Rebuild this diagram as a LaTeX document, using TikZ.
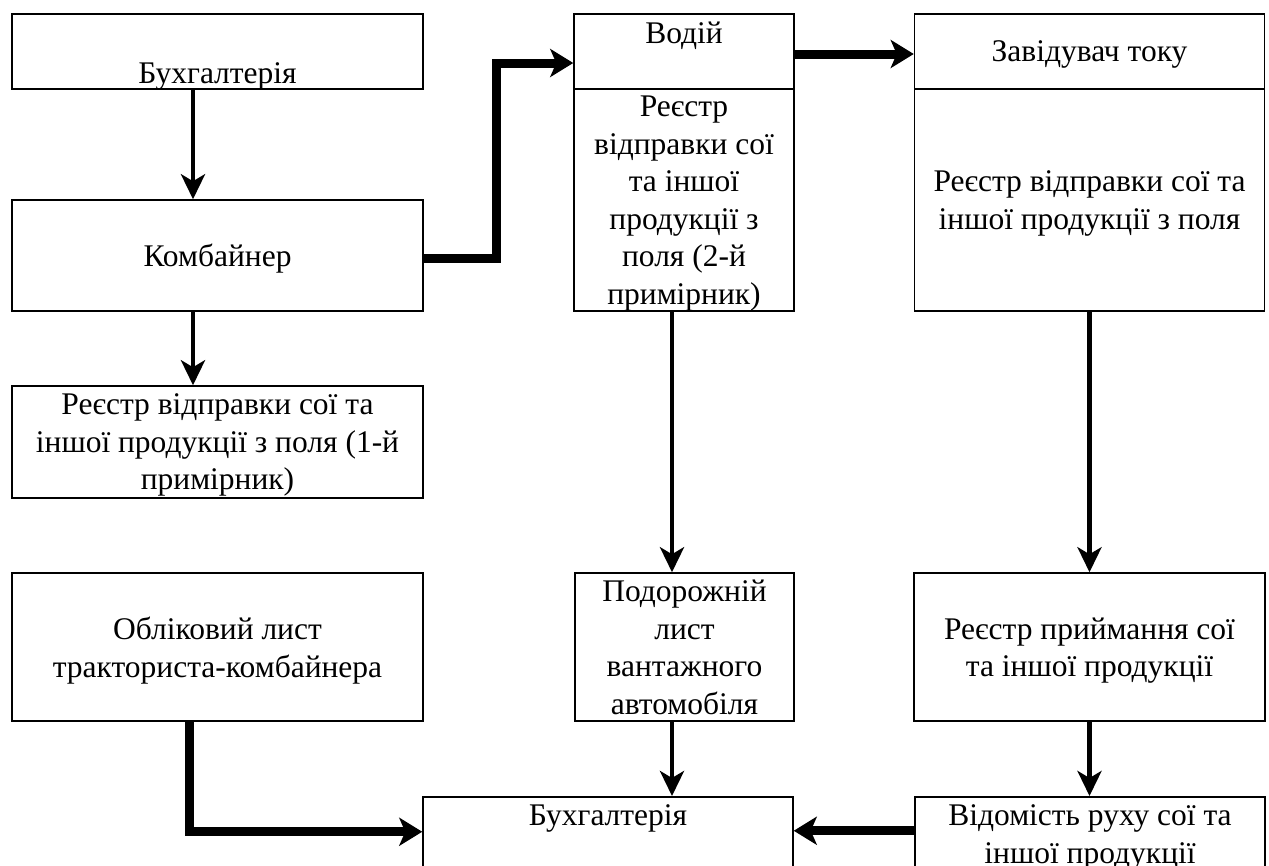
\documentclass[tikz,border=0pt]{standalone}
\usepackage{fontspec}
\setmainfont{Liberation Serif}
\usetikzlibrary{arrows.meta,positioning}
\newcommand{\txtsize}{\fontsize{31.5}{37.5}\selectfont}
\tikzset{
  blok/.style={draw,line width=1.5pt,align=center,inner sep=0pt,text depth=0pt,font=\txtsize},
  vstr/.style={line width=4.5pt,-{Stealth[length=25pt,width=24pt,inset=7pt]}},
  hstr/.style={line width=9pt,-{Stealth[length=23pt,width=28pt,inset=6pt]}}
}

\begin{document}
\begin{tikzpicture}[x=1pt,y=-1pt]
\useasboundingbox (0,0) rectangle (1269,865);
\clip (0,0) rectangle (1269,865);
% left column
\node[blok,minimum width=411pt,minimum height=75pt] (buha) at (217.5,51.5) {\strut\\Бухгалтерія};
\node[blok,minimum width=411pt,minimum height=111pt] (komb) at (217.5,255.5) {Комбайнер};
\node[blok,minimum width=411pt,minimum height=112pt] (reea) at (217.5,442) {Реєстр відправки сої та\\іншої продукції з поля (1-й\\примірник)};
\node[blok,minimum width=411pt,minimum height=148pt] (oblik) at (217.5,647) {Обліковий лист\\тракториста-комбайнера};
% middle column
\node[blok,minimum width=220pt,minimum height=75pt] (vodij) at (684,51.5) {Водій\\\strut};
\node[blok,minimum width=220pt,minimum height=222pt] (reeb) at (684,200) {Реєстр\\відправки сої\\та іншої\\продукції з\\поля (2-й\\примірник)};
\node[blok,minimum width=219pt,minimum height=148pt] (podor) at (684.5,647) {Подорожній\\лист\\вантажного\\автомобіля};
\node[blok,anchor=north,minimum width=370pt,minimum height=75pt] (buhb) at (608,796) {Бухгалтерія\\\strut};
% right column
\node[blok,minimum width=350pt,minimum height=75pt] (zav) at (1089.5,51.5) {Завідувач току};
\node[blok,minimum width=350pt,minimum height=222pt] (reec) at (1089.5,200) {Реєстр відправки сої та\\іншої продукції з поля};
\node[blok,minimum width=351pt,minimum height=148pt] (prijm) at (1089.5,647) {Реєстр приймання сої\\та іншої продукції};
\node[blok,anchor=north,minimum width=350pt,minimum height=75pt] (vidom) at (1090,796) {Відомість руху сої та\\іншої продукції};
% arrows
\draw[vstr] ([xshift=-24.5pt]buha.south) to ([xshift=-24.5pt]komb.north);
\draw[vstr] ([xshift=-24.5pt]komb.south) to ([xshift=-24.5pt]reea.north);
\draw[hstr] ([yshift=-2.5pt]komb.east) -- ++(73,0) |- ([yshift=-11.5pt]vodij.west);
\draw[hstr] ([yshift=-2.5pt]vodij.east) to ([yshift=-2.5pt]zav.west);
\draw[vstr] ([xshift=-12pt]reeb.south) to ([xshift=-12.5pt]podor.north);
\draw[vstr] ([xshift=-12.5pt]podor.south) to ([xshift=64pt]buhb.north);
\draw[vstr] (reec.south) to (prijm.north);
\draw[vstr] (prijm.south) to ([xshift=-0.5pt]vidom.north);
\draw[hstr] ([xshift=-28.5pt]oblik.south) |- ([yshift=2.5pt]buhb.west);
\draw[hstr] ([yshift=3.5pt]vidom.west) to ([yshift=3.5pt]buhb.east);
\end{tikzpicture}
\end{document}
